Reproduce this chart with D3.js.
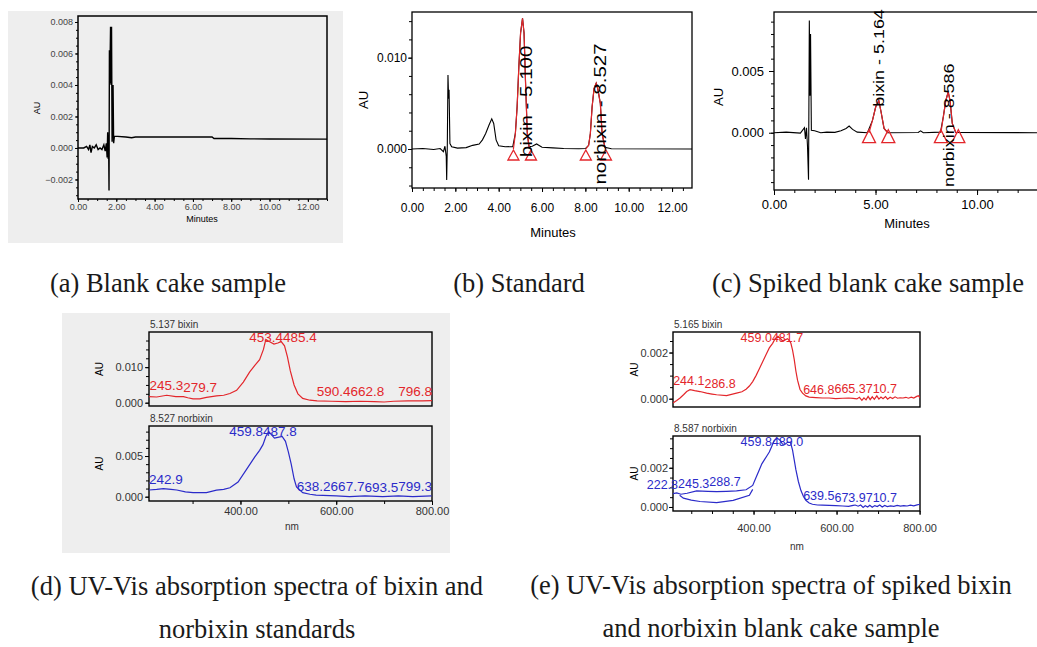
<!DOCTYPE html>
<html>
<head>
<meta charset="utf-8">
<script src="https://cdn.jsdelivr.net/npm/d3@7"></script>
<style>
  body { margin: 0; background: #fff; }
  text { font-family: "Liberation Sans", Arial, sans-serif; }
  .cap { font-family: "Liberation Serif", "Times New Roman", serif; fill: #1a1a1a; }
</style>
</head>
<body>
<script>
// ── Data ─────────────────────────────────────────────────────────────
// chromatograms: [minutes, AU]
var blankTrace = [
  [0, 0], [0.3, 0], [0.45, 0.0001], [0.55, -0.0001], [0.62, 0.0002], [0.68, -0.0003],
  [0.75, 0.0001], [0.85, 0], [0.95, 0.0002], [1.05, -0.0001], [1.15, 0], [1.25, -0.0001],
  [1.35, 0.0002], [1.42, -0.0002], [1.48, 0.0003], [1.52, -0.0006], [1.55, 0.001],
  [1.58, -0.0007], [1.6, 0.0002], [1.62, -0.0027], [1.64, 0.0062], [1.66, 0.0041],
  [1.7, 0.0077], [1.73, 0.004], [1.75, 0.0077], [1.78, 0.0004], [1.83, 0.004],
  [1.86, 0.0003], [1.9, 0.00075], [2.5, 0.0007], [2.8, 0.00065], [3.0, 0.0007],
  [3.5, 0.0007], [5, 0.0007], [7, 0.0007], [7.1, 0.0006], [8, 0.0006], [9, 0.00058],
  [10, 0.00057], [13, 0.00056]
];
var standardTrace = [
  [0, 0], [0.5, 0.00005], [1.0, -0.00005], [1.3, 0.00005], [1.45, -0.0003], [1.52, 0.0003],
  [1.58, -0.0008], [1.6, -0.0034], [1.63, 0.0005], [1.66, 0.0081], [1.69, 0.0055],
  [1.71, 0.0065], [1.75, 0.0006], [1.83, 0.00025], [2.1, 0.0001], [2.5, 0.00015],
  [2.8, 0.0004], [3.1, 0.00055], [3.25, 0.001], [3.4, 0.0017], [3.55, 0.0026],
  [3.68, 0.0033], [3.77, 0.0028], [3.88, 0.001], [4.0, 0.00036], [4.3, 0.00025],
  [4.65, 0.00026], [4.77, 0.0017], [4.85, 0.0046], [4.93, 0.009], [5.01, 0.0127],
  [5.10, 0.0143], [5.17, 0.0127], [5.24, 0.0072], [5.32, 0.0017], [5.4, 0.00026],
  [5.55, 0.0003], [5.75, 0.00055], [6.0, 0.0002], [6.5, 0.00012], [7.0, 0.00005],
  [7.7, 0.00003], [8.0, 0.00005], [8.15, 0.0004], [8.23, 0.0017], [8.31, 0.0046],
  [8.4, 0.0066], [8.5, 0.0072], [8.58, 0.0065], [8.69, 0.005], [8.77, 0.0017],
  [8.9, 0.0002], [9.2, 0.00003], [13, 0]
];
var spikedTrace = [
  [0, 0], [0.6, 0.00005], [1.3, -0.00003], [1.5, 0.0004], [1.55, -0.0005], [1.6, 0.0004],
  [1.65, -0.0011], [1.70, -0.0038], [1.74, 0.0091], [1.77, 0.003], [1.8, 0.008],
  [1.84, 0.0002], [2.0, 0.00016], [2.3, 0], [2.6, 0.00005], [3.0, 0.00003], [3.3, 0.00016],
  [3.55, 0.00035], [3.70, 0.00054], [3.87, 0.00027], [4.1, 0.00005], [4.6, 0],
  [4.85, 0.001], [5.01, 0.0021], [5.16, 0.0026], [5.26, 0.0018], [5.42, 0.00035],
  [5.6, 0], [7.1, 0.00002], [7.22, 0.00015], [7.35, 0], [8.2, 0.00005], [8.34, 0.0013],
  [8.46, 0.0026], [8.58, 0.0033], [8.67, 0.0026], [8.78, 0.00076], [8.95, 0.00003], [13.1, 0]
];

// integrated peaks: retention time, start / end of integration, label anchor (AU)
var standardPeaks = [
  { name: "bixin", rt: 5.100, start: 4.68, end: 5.49, labelAt: -0.0009 },
  { name: "norbixin", rt: 8.527, start: 8.02, end: 8.95, labelAt: -0.0039 }
];
var spikedPeaks = [
  { name: "bixin", rt: 5.164, start: 4.68, end: 5.63, labelAt: 0.0021 },
  { name: "norbixin", rt: 8.586, start: 8.22, end: 9.08, labelAt: -0.0044 }
];

// UV-Vis spectra: [nm, AU]
var bixinStdSpectrum = [
  [209, 0.0017], [225, 0.0016], [246, 0.0021], [265, 0.0017], [281, 0.0017], [290, 0.0014],
  [301, 0.0011], [315, 0.0011], [329, 0.0015], [350, 0.0019], [365, 0.0021], [378, 0.0026],
  [392, 0.0035], [406, 0.0058], [419, 0.0086], [430, 0.0105], [440, 0.0121], [448, 0.015],
  [453, 0.0178], [460, 0.0172], [470, 0.0165], [478, 0.0168], [485, 0.0172], [492, 0.016],
  [498, 0.013], [504, 0.009], [512, 0.005], [520, 0.0025], [530, 0.0012], [545, 0.0007],
  [560, 0.0005], [590, 0.0004], [620, 0.0003], [650, 0.0004], [680, 0.0003], [700, 0.0002],
  [720, 0.0004], [750, 0.0005], [780, 0.0005], [800, 0.0006]
];
var norbixinStdSpectrum = [
  [209, 0.00082], [225, 0.0009], [239, 0.001], [255, 0.0009], [267, 0.00082], [285, 0.0006],
  [301, 0.0005], [329, 0.0005], [350, 0.0008], [365, 0.0009], [378, 0.0011], [395, 0.0018],
  [412, 0.0033], [430, 0.0049], [440, 0.0057], [447, 0.0064], [453, 0.0074], [459, 0.008],
  [465, 0.0076], [471, 0.0072], [478, 0.0073], [487, 0.0074], [494, 0.0068], [500, 0.0055],
  [506, 0.004], [512, 0.0022], [517, 0.0012], [530, 0.0005], [545, 0.0003], [558, 0.0002],
  [600, 0.0001], [628, 0], [660, 0.0001], [697, 0], [730, 0.0001], [760, 0], [799, 0.0001]
];
var bixinSpikedSpectrum = [
  [206, -0.00019], [215, -0.00008], [223, 0.00003], [232, 0.00018], [239, 0.00031],
  [247, 0.00039], [258, 0.00035], [271, 0.00031], [287, 0.00024], [300, 0.0002],
  [311, 0.00017], [335, 0.00013], [359, 0.00024], [372, 0.0003], [382, 0.00041],
  [390, 0.00055], [398, 0.00074], [406, 0.001], [414, 0.0013], [422, 0.0016], [430, 0.0019],
  [438, 0.0022], [446, 0.0024], [452, 0.0026], [459, 0.0027], [465, 0.0026], [470, 0.0025],
  [476, 0.00255], [482, 0.0026], [487, 0.0025], [490, 0.0024], [494, 0.0021], [498, 0.0017],
  [502, 0.0012], [506, 0.0008], [512, 0.0004], [518, 0.00024], [526, 0.00012], [534, 0.00007],
  [550, 0.00005], [566, 0.00003], [582, 0.00003], [598, 0], [615, 0.00002], [629, 0.00003],
  [640, 0.00001], [649, -0.00001], [655, 0.00006], [661, -0.00007], [666, 0.00004],
  [671, -0.00005], [676, 0.0001], [681, -0.00004], [686, 0.00008], [691, -0.00003],
  [697, 0.00012], [702, -0.00002], [707, 0.00007], [712, 0], [718, 0.00009], [723, -0.00002],
  [729, 0.00006], [735, 0.00001], [741, 0.00008], [747, 0.00002], [753, 0.00004],
  [760, 0.00003], [767, 0.00006], [773, 0.00002], [780, 0.00007], [786, 0.00003],
  [792, 0.00009], [797, 0.00013], [801, 0.00004]
];
var norbixinSpikedSpectrum = [
  [206, 0.00068], [215, 0.00072], [225, 0.00065], [240, 0.0007], [263, 0.00082],
  [290, 0.0008], [311, 0.00078], [335, 0.0008], [359, 0.00082], [382, 0.00088],
  [398, 0.0011], [406, 0.0015], [414, 0.0019], [420, 0.0022], [426, 0.0024], [432, 0.0026],
  [438, 0.0028], [444, 0.0031], [450, 0.0034], [458, 0.0035], [464, 0.0034], [470, 0.0032],
  [476, 0.0032], [482, 0.0033], [489, 0.0033], [494, 0.0029], [498, 0.0024], [502, 0.0019],
  [508, 0.0013], [514, 0.00085], [520, 0.00055], [526, 0.00034], [534, 0.0002], [542, 0.00014],
  [554, 0.0001], [566, 0.00009], [582, 0.00008], [598, 0.00007], [615, 0.00005], [629, 0.00003],
  [640, 0.00008], [645, 0.0001], [652, 0.00004], [658, 0.0001], [664, -0.00002], [669, 0.00006],
  [675, 0], [680, 0.00009], [686, -0.00001], [692, 0.00007], [698, 0.00002], [704, 0.0001],
  [710, 0], [716, 0.00008], [722, 0.00002], [730, 0.00006], [738, 0.00003], [746, 0.00008],
  [754, 0.00004], [762, 0.00007], [770, 0.00005], [778, 0.00009], [786, 0.00006],
  [794, 0.00011], [801, 0.00014]
];
var norbixinSpikedLower = [
  [222, 0.0006], [231, 0.00045], [250, 0.00035], [271, 0.00028], [311, 0.00022],
  [351, 0.00034], [390, 0.0006], [398, 0.0009]
];

// wavelength labels printed over each spectrum
var bixinStdLabels = ["245.3", "279.7", "453.4", "485.4", "590.4", "662.8", "796.8"];
var norbixinStdLabels = ["242.9", "459.8", "487.8", "638.2", "667.7", "693.5", "799.3"];
var bixinSpikedLabels = ["244.1", "286.8", "459.0", "481.7", "646.8", "665.3", "710.7"];
var norbixinSpikedLabels = ["222.8", "245.3", "288.7", "459.8", "489.0", "639.5", "673.9", "710.7"];

var captions = [
  { lines: ["(a) Blank cake sample"], x: 168, y: 292 },
  { lines: ["(b) Standard"], x: 519, y: 292 },
  { lines: ["(c) Spiked blank cake sample"], x: 868, y: 292 },
  { lines: ["(d) UV-Vis absorption spectra of bixin and", "norbixin standards"], x: 257, y: 595 },
  { lines: ["(e) UV-Vis absorption spectra of spiked bixin", "and norbixin blank cake sample"], x: 771, y: 594 }
];

// ── Setup ────────────────────────────────────────────────────────────
var W = 1037, H = 647;
var RED = "#e3262b", BLUE = "#2b2bc9";
var svg = d3.select("body").append("svg").attr("width", W).attr("height", H);
var defs = svg.append("defs");
var clipId = 0;

function steps(a, b, s) {
  return d3.range(a, b + s / 1000, s).map(function (v) { return +v.toFixed(6); });
}

function frameAxes(g, x, y, o) {
  var f = o.frame;
  if (o.yMinor) {
    g.append("g").attr("transform", "translate(" + f.l + ",0)")
      .call(d3.axisLeft(y).tickValues(o.yMinor).tickSize(o.minorLen).tickFormat(""));
  }
  g.append("g").attr("transform", "translate(" + f.l + ",0)")
    .call(d3.axisLeft(y).tickValues(o.yMajor).tickSize(o.majorLen)
      .tickPadding(o.yPad).tickFormat(d3.format(o.yFmt)));
  if (o.xMajor) {
    if (o.xMinor) {
      g.append("g").attr("transform", "translate(0," + f.b + ")")
        .call(d3.axisBottom(x).tickValues(o.xMinor).tickSize(o.minorLen).tickFormat(""));
    }
    g.append("g").attr("transform", "translate(0," + f.b + ")")
      .call(d3.axisBottom(x).tickValues(o.xMajor).tickSize(o.majorLen)
        .tickPadding(o.xPad).tickFormat(d3.format(o.xFmt)));
  }
  g.selectAll(".domain").remove();
  g.selectAll(".tick line").attr("stroke", "#000");
  g.selectAll(".tick text").attr("font-size", o.tickFont).attr("fill", o.tickColor || "#000");
  g.append("rect")
    .attr("x", f.l).attr("y", f.t)
    .attr("width", f.r - f.l).attr("height", f.b - f.t)
    .attr("fill", "none").attr("stroke", "#000").attr("stroke-width", o.frameW || 1.3);
}

function clipFor(f) {
  var id = "clip" + (clipId++);
  defs.append("clipPath").attr("id", id).append("rect")
    .attr("x", f.l).attr("y", f.t).attr("width", f.r - f.l).attr("height", f.b - f.t);
  return "url(#" + id + ")";
}

function rotLabel(g, text, tx, ty, size) {
  g.append("text")
    .attr("transform", "translate(" + tx + "," + ty + ") rotate(-90)")
    .attr("text-anchor", "middle").attr("font-size", size).text(text);
}

// ── Chromatogram panels ──────────────────────────────────────────────
function chromPanel(o) {
  var f = o.frame;
  var g = svg.append("g");
  if (o.bg) {
    g.append("rect").attr("x", o.bg[0]).attr("y", o.bg[1])
      .attr("width", o.bg[2]).attr("height", o.bg[3]).attr("fill", "#eeeeee");
  }
  var x = d3.scaleLinear().domain(o.xDomain).range([f.l, f.r]);
  var y = d3.scaleLinear().domain(o.yDomain).range([f.b, f.t]);
  var line = d3.line().x(function (d) { return x(d[0]); }).y(function (d) { return y(d[1]); });
  var clip = clipFor(f);

  frameAxes(g, x, y, o);

  g.append("path").datum(o.trace)
    .attr("clip-path", clip)
    .attr("fill", "none").attr("stroke", "#000").attr("stroke-width", o.lineW)
    .attr("d", line);

  (o.peaks || []).forEach(function (p) {
    var seg = o.trace.filter(function (d) { return d[0] >= p.start && d[0] <= p.end; });
    seg = [[p.start, 0]].concat(seg, [[p.end, 0]]);
    g.append("path").datum(seg)
      .attr("clip-path", clip)
      .attr("fill", "none").attr("stroke", RED).attr("stroke-width", 1.2)
      .attr("d", line);
    [p.start, p.end].forEach(function (t) {
      var cx = x(t), ty = y(0) + o.tri.dy;
      g.append("path")
        .attr("d", "M" + cx + "," + ty + "L" + (cx + o.tri.w / 2) + "," + (ty + o.tri.h) +
          "L" + (cx - o.tri.w / 2) + "," + (ty + o.tri.h) + "Z")
        .attr("fill", "none").attr("stroke", RED).attr("stroke-width", 1.3);
    });
    // Empower draws these labels tall and narrow: stretch along the text
    var lab = g.append("text")
      .attr("transform", "translate(" + (x(p.rt) + o.labelDx) + "," + y(p.labelAt) + ") rotate(-90)")
      .attr("font-size", o.peakFont)
      .text(p.name + " - " + p.rt.toFixed(3));
    var len = lab.node().getComputedTextLength();
    lab.attr("textLength", len * 1.28).attr("lengthAdjust", "spacingAndGlyphs");
  });

  rotLabel(g, "AU", o.auPos[0], o.auPos[1], o.axisFont);
  g.append("text").attr("x", o.minPos[0]).attr("y", o.minPos[1])
    .attr("text-anchor", "middle").attr("font-size", o.axisFont).text("Minutes");
}

chromPanel({
  bg: [8, 11, 335, 232],
  frame: { l: 78, r: 327, t: 16, b: 199 },
  xDomain: [0, 13], yDomain: [-0.00324, 0.00838],
  trace: blankTrace, lineW: 1.4,
  xMajor: steps(0, 12, 2), xMinor: steps(0, 13, 0.5),
  yMajor: steps(-0.002, 0.008, 0.002), yMinor: steps(-0.003, 0.008, 0.0005),
  xFmt: ".2f", yFmt: ".3f", tickFont: 9, tickColor: "#444",
  majorLen: 3, minorLen: 2, yPad: 2, xPad: 2, frameW: 1.5,
  auPos: [40, 108], minPos: [202, 222], axisFont: 9
});

chromPanel({
  frame: { l: 412, r: 692, t: 12, b: 188 },
  xDomain: [0, 12.92], yDomain: [-0.00427, 0.015],
  trace: standardTrace, lineW: 1.1,
  xMajor: steps(0, 12, 2), xMinor: steps(0, 12.5, 0.5),
  yMajor: [0, 0.01], yMinor: steps(-0.004, 0.014, 0.002),
  xFmt: ".2f", yFmt: ".3f", tickFont: 12,
  majorLen: 4, minorLen: 3, yPad: 1, xPad: 11, frameW: 1.3,
  peaks: standardPeaks, peakFont: 16, labelDx: 9, tri: { w: 11, h: 10, dy: 1 },
  auPos: [368, 100], minPos: [553, 237], axisFont: 13
});

chromPanel({
  frame: { l: 774, r: 1040, t: 12, b: 190 },
  xDomain: [0, 13.1], yDomain: [-0.00464, 0.00978],
  trace: spikedTrace, lineW: 1.1,
  xMajor: [0, 5, 10], xMinor: steps(0, 13, 1),
  yMajor: [0, 0.005], yMinor: steps(-0.004, 0.009, 0.001),
  xFmt: ".2f", yFmt: ".3f", tickFont: 13,
  majorLen: 5, minorLen: 3, yPad: 5, xPad: 5, frameW: 1.3,
  peaks: spikedPeaks, peakFont: 14, labelDx: 5.5, tri: { w: 13, h: 13, dy: -3 },
  auPos: [723, 97], minPos: [907, 228], axisFont: 13
});

// ── Spectrum panels ──────────────────────────────────────────────────
function valueAt(data, v) {
  var i = d3.bisector(function (d) { return d[0]; }).left(data, v);
  if (i <= 0) return data[0][1];
  if (i >= data.length) return data[data.length - 1][1];
  var a = data[i - 1], b = data[i];
  return a[1] + (b[1] - a[1]) * (v - a[0]) / (b[0] - a[0]);
}

function specPanel(o) {
  var f = o.frame;
  var g = svg.append("g");
  var x = d3.scaleLinear().domain(o.xDomain).range([f.l, f.r]);
  var y = d3.scaleLinear().domain(o.yDomain).range([f.b, f.t]);
  var line = d3.line().x(function (d) { return x(d[0]); }).y(function (d) { return y(d[1]); });
  var clip = clipFor(f);

  frameAxes(g, x, y, o);

  [o.data].concat(o.extra ? [o.extra] : []).forEach(function (d) {
    g.append("path").datum(d)
      .attr("clip-path", clip)
      .attr("fill", "none").attr("stroke", o.color).attr("stroke-width", 1.2)
      .attr("d", line);
  });

  // wavelength labels: centred on their wavelength, pushed apart, kept in the frame
  var nodes = o.labels.map(function (s) {
    var t = g.append("text").attr("font-size", o.labelFont).attr("fill", o.color).text(s);
    var w = t.node().getComputedTextLength();
    return { t: t, w: w, v: +s, s: x(+s) - w / 2 };
  });
  var prevEnd = f.l;
  nodes.forEach(function (n) { n.s = Math.max(n.s, prevEnd); prevEnd = n.s + n.w; });
  var nextStart = f.r - (o.rightPad || 0);
  for (var i = nodes.length - 1; i >= 0; i--) {
    var n = nodes[i];
    if (n.s + n.w > nextStart) n.s = nextStart - n.w;
    nextStart = n.s;
  }
  nodes.forEach(function (n) {
    var yy = Math.max(y(valueAt(o.data, n.v)) - 5, f.t + 10);
    n.t.attr("x", n.s).attr("y", yy);
  });

  g.append("text").attr("x", f.l + 1).attr("y", f.t - 4)
    .attr("font-size", 10).attr("fill", "#333").text(o.title);
  rotLabel(g, "AU", o.auX, (f.t + f.b) / 2, 10);
  if (o.nmPos) {
    g.append("text").attr("x", o.nmPos[0]).attr("y", o.nmPos[1])
      .attr("text-anchor", "middle").attr("font-size", 10).attr("fill", "#333").text("nm");
  }
}

svg.insert("rect", ":first-child").attr("x", 62).attr("y", 313)
  .attr("width", 388).attr("height", 240).attr("fill", "#eeeeee");

var specCommon = {
  majorLen: 4, minorLen: 3, yPad: 2, xFmt: ".2f", yFmt: ".3f",
  tickFont: 11, tickColor: "#333", frameW: 1.4
};

specPanel(Object.assign({}, specCommon, {
  frame: { l: 149, r: 432, t: 332, b: 406 },
  xDomain: [209, 800], yDomain: [-0.00093, 0.0199],
  yMajor: [0, 0.01], yMinor: steps(0, 0.0175, 0.0025),
  data: bixinStdSpectrum, color: RED, labels: bixinStdLabels, labelFont: 13.5,
  title: "5.137 bixin", auX: 103
}));
specPanel(Object.assign({}, specCommon, {
  frame: { l: 149, r: 432, t: 426, b: 501 },
  xDomain: [209, 800], yDomain: [-0.00053, 0.00869],
  yMajor: [0, 0.005], yMinor: steps(0, 0.008, 0.001),
  xMajor: [400, 600, 800], xMinor: steps(300, 800, 100), xPad: 2,
  data: norbixinStdSpectrum, color: BLUE, labels: norbixinStdLabels, labelFont: 13.5,
  title: "8.527 norbixin", auX: 103, nmPos: [292, 530]
}));
specPanel(Object.assign({}, specCommon, {
  frame: { l: 673, r: 920, t: 332, b: 407 },
  xDomain: [206, 801], yDomain: [-0.00036, 0.00289],
  yMajor: [0, 0.002], yMinor: steps(0, 0.0025, 0.0005), yPad: 1,
  data: bixinSpikedSpectrum, color: RED, labels: bixinSpikedLabels, labelFont: 12.5,
  rightPad: 23, title: "5.165 bixin", auX: 638
}));
specPanel(Object.assign({}, specCommon, {
  frame: { l: 673, r: 920, t: 436, b: 511 },
  xDomain: [206, 801], yDomain: [-0.000205, 0.00362],
  yMajor: [0, 0.002], yMinor: steps(0, 0.0035, 0.0005), yPad: 1,
  xMajor: [400, 600, 800], xMinor: steps(250, 800, 50), xPad: 9,
  data: norbixinSpikedSpectrum, extra: norbixinSpikedLower, color: BLUE,
  labels: norbixinSpikedLabels, labelFont: 12.5, rightPad: 23,
  title: "8.587 norbixin", auX: 638, nmPos: [797, 550]
}));

// ── Captions ─────────────────────────────────────────────────────────
captions.forEach(function (c) {
  c.lines.forEach(function (s, i) {
    svg.append("text").attr("class", "cap")
      .attr("x", c.x).attr("y", c.y + i * 43)
      .attr("text-anchor", "middle").attr("font-size", 26.5)
      .text(s);
  });
});
</script>
</body>
</html>
